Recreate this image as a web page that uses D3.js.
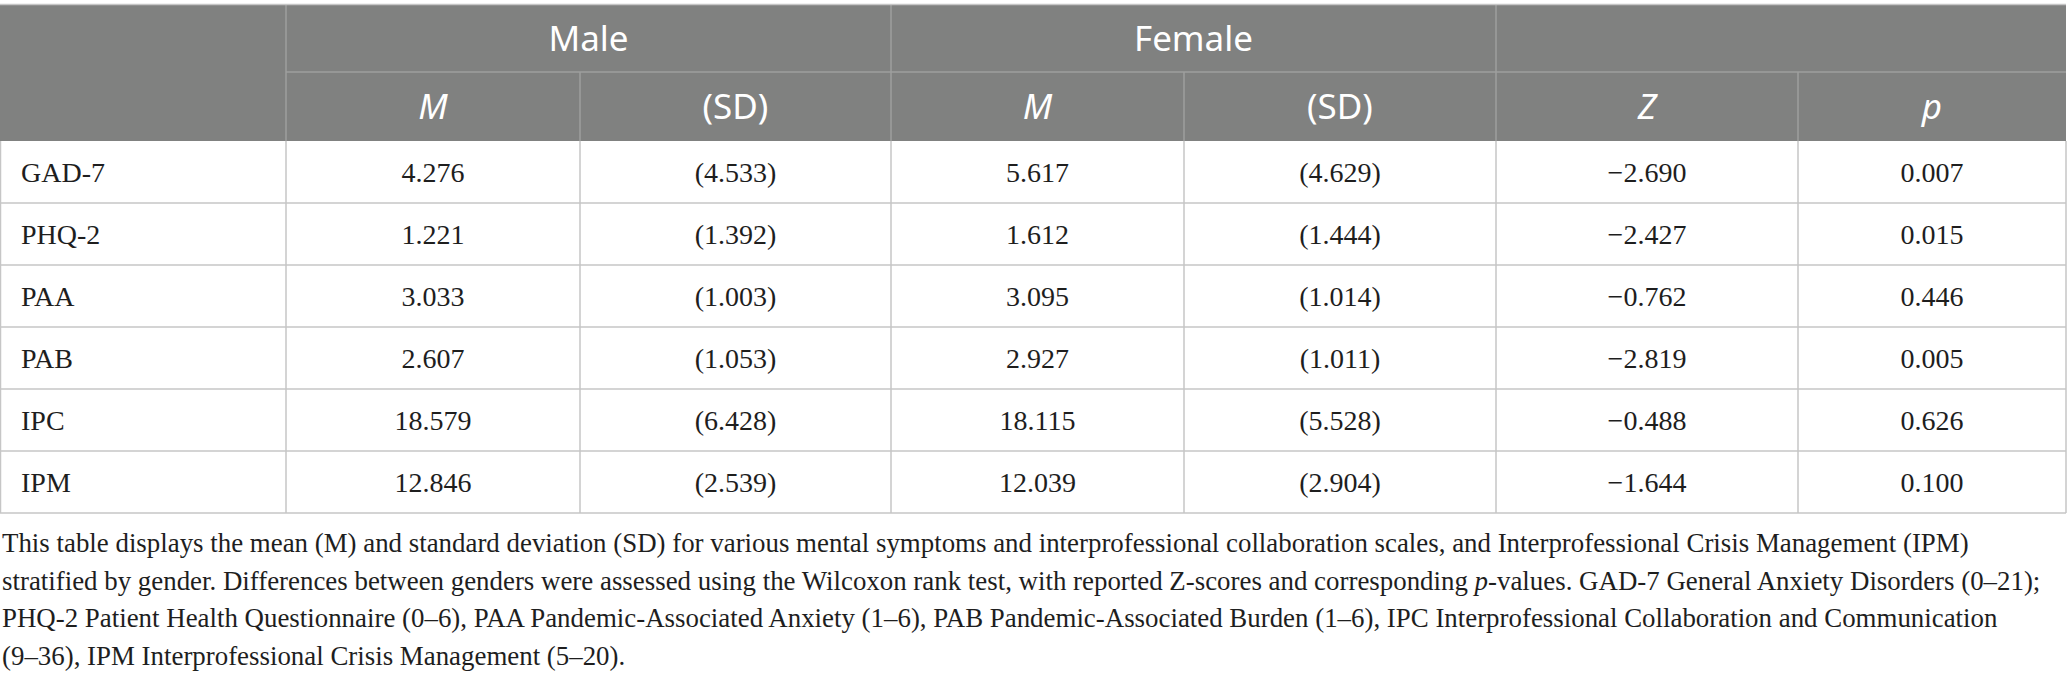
<!DOCTYPE html>
<html>
<head>
<meta charset="utf-8">
<script src="https://cdn.jsdelivr.net/npm/d3@7"></script>
<style>
html, body { margin: 0; padding: 0; background: #fff; }
#chart svg { display: block; }
</style>
</head>
<body>
<div id="chart"></div>
<script>
// table values
const rowLabels = ["GAD-7", "PHQ-2", "PAA", "PAB", "IPC", "IPM"];
const maleM     = [4.276, 1.221, 3.033, 2.607, 18.579, 12.846];
const maleSD    = [4.533, 1.392, 1.003, 1.053, 6.428, 2.539];
const femaleM   = [5.617, 1.612, 3.095, 2.927, 18.115, 12.039];
const femaleSD  = [4.629, 1.444, 1.014, 1.011, 5.528, 2.904];
const zScores   = [-2.690, -2.427, -0.762, -2.819, -0.488, -1.644];
const pValues   = [0.007, 0.015, 0.446, 0.005, 0.626, 0.100];

const groupLabels = ["Male", "Female", ""];
const subLabels   = ["M", "(SD)", "M", "(SD)", "Z", "p"];
const subItalic   = [true, false, true, false, true, true];

// caption, one array of [text, italic] pieces per line
const captionLines = [
  [["This table displays the mean (M) and standard deviation (SD) for various mental symptoms and interprofessional collaboration scales, and Interprofessional Crisis Management (IPM)", false]],
  [["stratified by gender. Differences between genders were assessed using the Wilcoxon rank test, with reported Z-scores and corresponding ", false], ["p", true], ["-values. GAD-7 General Anxiety Disorders (0\u201321);", false]],
  [["PHQ-2 Patient Health Questionnaire (0\u20136), PAA Pandemic-Associated Anxiety (1\u20136), PAB Pandemic-Associated Burden (1\u20136), IPC Interprofessional Collaboration and Communication", false]],
  [["(9\u201336), IPM Interprofessional Crisis Management (5\u201320).", false]]
];

// layout
const W = 2067, H = 678;
const colEdges = [0.5, 286, 580, 891, 1184, 1496, 1798, 2066];
const groupEdges = [286, 891, 1496, 2066];
const tableTop = 4.5, headMid = 72, headBottom = 141, tableBottom = 513;

const headFill = "#808180";
const headLine = "#9e9f9e";
const bodyLine = "#c6c6c6";
const serif = "'Liberation Serif', 'Times New Roman', serif";
const sans = "'Noto Sans', 'Open Sans', sans-serif";

const fmt = d3.format(".3f");

const svg = d3.select("#chart")
  .append("svg")
  .attr("width", W)
  .attr("height", H);

// row scale
const yScale = d3.scaleBand()
  .domain(rowLabels)
  .range([headBottom, tableBottom]);

// header background
svg.append("rect")
  .attr("x", 0).attr("y", tableTop)
  .attr("width", colEdges[colEdges.length - 1])
  .attr("height", headBottom - tableTop)
  .attr("fill", headFill);

// header lines
const hdr = svg.append("g")
  .attr("stroke", headLine)
  .attr("stroke-width", 1.5);

hdr.append("line")
  .attr("x1", groupEdges[0]).attr("x2", groupEdges[3])
  .attr("y1", headMid).attr("y2", headMid);

groupEdges.slice(0, 3).forEach(x => {
  hdr.append("line")
    .attr("x1", x).attr("x2", x)
    .attr("y1", tableTop).attr("y2", headBottom);
});

colEdges.slice(1, -1).forEach((x, i) => {
  if (groupEdges.includes(x)) return;
  hdr.append("line")
    .attr("x1", x).attr("x2", x)
    .attr("y1", headMid).attr("y2", headBottom);
});

// group headers
svg.selectAll(".group-label")
  .data(groupLabels)
  .enter().append("text")
  .attr("class", "group-label")
  .attr("x", (d, i) => (groupEdges[i] + groupEdges[i + 1]) / 2)
  .attr("y", (tableTop + headMid) / 2)
  .attr("dy", "0.36em")
  .attr("text-anchor", "middle")
  .attr("fill", "#fff")
  .style("font-family", sans)
  .style("font-size", "35px")
  .text(d => d);

// sub headers
svg.selectAll(".sub-label")
  .data(subLabels)
  .enter().append("text")
  .attr("class", "sub-label")
  .attr("x", (d, i) => (colEdges[i + 1] + colEdges[i + 2]) / 2)
  .attr("y", (headMid + headBottom) / 2)
  .attr("dy", "0.36em")
  .attr("text-anchor", "middle")
  .attr("fill", "#fff")
  .style("font-family", sans)
  .style("font-size", "35px")
  .style("font-style", (d, i) => subItalic[i] ? "italic" : "normal")
  .text(d => d);

// body grid
const grid = svg.append("g")
  .attr("stroke", bodyLine)
  .attr("stroke-width", 1.5)
  .attr("fill", "none");

grid.append("line")
  .attr("x1", 0).attr("x2", colEdges[colEdges.length - 1])
  .attr("y1", tableTop).attr("y2", tableTop);

rowLabels.forEach(r => {
  const y = yScale(r) + yScale.bandwidth();
  grid.append("line")
    .attr("x1", 0).attr("x2", colEdges[colEdges.length - 1])
    .attr("y1", y).attr("y2", y);
});

colEdges.forEach(x => {
  grid.append("line")
    .attr("x1", x).attr("x2", x)
    .attr("y1", headBottom).attr("y2", tableBottom);
});

// cells
const columns = [
  maleM.map(fmt),
  maleSD.map(v => `(${fmt(v)})`),
  femaleM.map(fmt),
  femaleSD.map(v => `(${fmt(v)})`),
  zScores.map(fmt),
  pValues.map(fmt)
];

const rows = svg.selectAll(".row")
  .data(rowLabels)
  .enter().append("g")
  .attr("class", "row")
  .attr("transform", d => `translate(0,${yScale(d) + yScale.bandwidth() / 2})`)
  .style("font-family", serif)
  .style("font-size", "28px")
  .attr("fill", "#1e1e1e");

rows.append("text")
  .attr("x", 21)
  .attr("dy", "0.34em")
  .text(d => d);

rows.each(function(d, ri) {
  const g = d3.select(this);
  columns.forEach((col, ci) => {
    g.append("text")
      .attr("x", (colEdges[ci + 1] + colEdges[ci + 2]) / 2)
      .attr("dy", "0.34em")
      .attr("text-anchor", "middle")
      .text(col[ri]);
  });
});

// caption
const capBase = [552, 589.5, 627, 664.5];
const cap = svg.append("g")
  .style("font-family", serif)
  .attr("fill", "#1e1e1e");

const capText = cap.selectAll("text")
  .data(captionLines)
  .enter().append("text")
  .attr("x", 2)
  .attr("y", (d, i) => capBase[i])
  .style("font-size", "25px");

capText.selectAll("tspan")
  .data(d => d)
  .enter().append("tspan")
  .style("font-style", d => d[1] ? "italic" : "normal")
  .text(d => d[0]);

// fit caption font size so the first line ends where the reference does
const firstLen = capText.node().getComputedTextLength();
const capSize = 25 * 1968 / firstLen;
capText.style("font-size", capSize + "px");
</script>
</body>
</html>
